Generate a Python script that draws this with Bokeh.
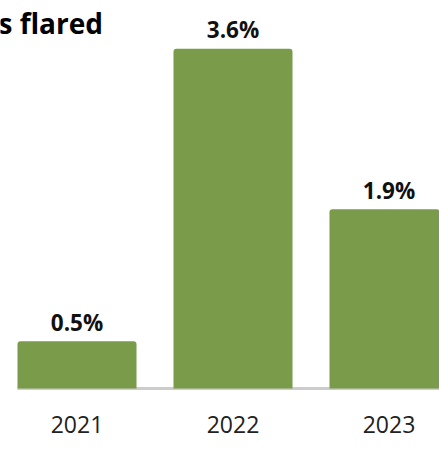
from bokeh.plotting import figure
from bokeh.models import Range1d, FixedTicker
from bokeh.embed import file_html
from bokeh.resources import INLINE
from bokeh.core.properties import value

years = ["2021", "2022", "2023"]
shares = [0.5, 3.6, 1.9]
share_labels = ["0.5%", "3.6%", "1.9%"]
title_text = "s flared"

xs = list(range(len(years)))
BAR_W = 0.763
GREEN = "#7a9c4a"

p = figure(width=439, height=449, output_backend="svg", toolbar_location=None,
           x_range=Range1d(-0.4904, 2.3237), y_range=Range1d(-0.0212, 4.11),
           y_axis_location=None,
           min_border_left=0, min_border_right=0, min_border_top=0,
           min_border_bottom=59)
p.outline_line_color = None
p.xgrid.visible = False
p.ygrid.visible = False
p.background_fill_color = "white"
p.border_fill_color = "white"

# baseline
p.segment(x0=[xs[0] - BAR_W / 2], y0=[0], x1=[xs[-1] + 1], y1=[0],
          line_color="#cccccc", line_width=3)

p.vbar(x=xs, top=shares, bottom=0, width=BAR_W, fill_color=GREEN,
       line_color=None, border_radius=(3, 3, 0, 0))

p.text(x=xs, y=shares, text=share_labels, y_offset=-19,
       text_align="center", text_baseline="alphabetic",
       text_font=value("Open Sans"), text_font_style="bold",
       text_font_size="22.5px", text_color="#111111")

p.text(x=[-0.503], y=[3.867], text=[title_text],
       text_align="left", text_baseline="alphabetic",
       text_font=value("Open Sans"), text_font_style="bold",
       text_font_size="28px", text_color="#000000")

ax = p.xaxis[0]
ax.ticker = FixedTicker(ticks=xs)
ax.major_label_overrides = {i: y for i, y in zip(xs, years)}
ax.axis_line_color = None
ax.major_tick_line_color = None
ax.minor_tick_line_color = None
ax.major_tick_out = 0
ax.major_tick_in = 0
ax.major_label_standoff = 25
ax.major_label_text_font = "Open Sans"
ax.major_label_text_font_size = "23px"
ax.major_label_text_color = "#222222"

open("out.html", "w").write(file_html(p, INLINE))
